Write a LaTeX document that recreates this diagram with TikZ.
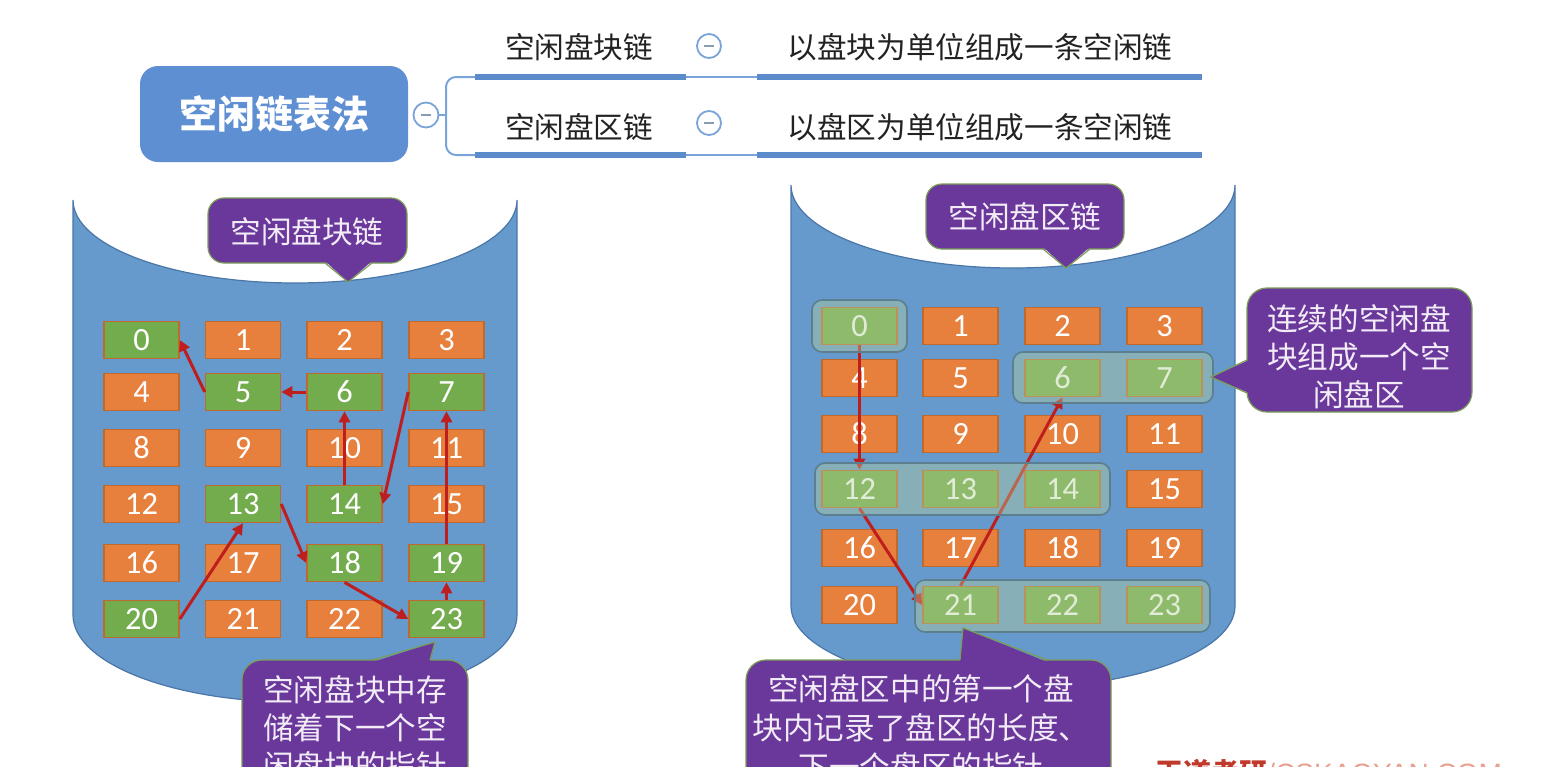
\documentclass[tikz,border=0pt]{standalone}
\usepackage{fontspec}
\setmainfont{Carlito}
\newfontfamily\cjk{Noto Sans CJK SC}
\newfontfamily\wmfont{Liberation Sans}
\usetikzlibrary{arrows.meta}
\definecolor{cylfill}{HTML}{6699CC}
\definecolor{cylline}{HTML}{4A76A8}
\definecolor{orangebox}{HTML}{E8803D}
\definecolor{greenbox}{HTML}{72AC4D}
\definecolor{boxline}{HTML}{BE6A2E}
\definecolor{calloutfill}{HTML}{6A379B}
\definecolor{calloutline}{HTML}{7A9E58}
\definecolor{callouttext}{HTML}{F2ECF7}
\definecolor{arrowred}{HTML}{BE1E1E}
\definecolor{rootblue}{HTML}{5F8FD3}
\definecolor{barblue}{HTML}{5B8BCB}
\definecolor{thinblue}{HTML}{7AA3DA}
\definecolor{minusgray}{HTML}{8A9BB5}
\definecolor{overlayc}{RGB}{182,208,154}
\definecolor{overlayline}{HTML}{5B7F8F}
\definecolor{labeltext}{HTML}{222222}
\definecolor{wmdark}{HTML}{C0392B}
\definecolor{wmlight}{HTML}{E8A090}
\begin{document}
\begin{tikzpicture}[x=0.5pt,y=-0.5pt,
  blk/.style={draw=boxline, line width=0.8pt, minimum width=37.5pt, minimum height=18.5pt,
    inner sep=0pt, text=white, font=\fontsize{16.2}{18}\selectfont},
  fblk/.style={blk, fill=greenbox},
  ublk/.style={blk, fill=orangebox},
  arr/.style={draw=arrowred, line width=1.5pt, -{Triangle[length=5.5pt,width=5.5pt]}},
  callout/.style={fill=calloutfill, draw=calloutline, line width=0.6pt, inner sep=0pt},
  ptr/.style={draw=calloutline, line width=0.6pt},
  ctext/.style={text=callouttext, font=\cjk\fontsize{15.3}{18}\selectfont, inner sep=0pt},
  grp/.style={fill=overlayc, fill opacity=0.4, draw=overlayline, draw opacity=1,
    line width=0.8pt, rounded corners=5pt},
  minus/.style={circle, draw=thinblue, line width=0.9pt, fill=white, minimum size=12pt, inner sep=0pt},
  minusbar/.style={draw=minusgray, line width=1pt},
  toplabel/.style={text=labeltext, font=\cjk\fontsize{14.8}{17}\selectfont, inner sep=0pt},
  bar/.style={draw=barblue, line width=3pt},
  thin/.style={draw=thinblue, line width=1pt}]
\clip (0,0) rectangle (1552,766);
\fill[white] (0,0) rectangle (1552,766);

% ---------- mind map ----------
\node[fill=rootblue, rounded corners=9pt, minimum width=134pt, minimum height=48pt, inner sep=0pt,
  text=white, font=\cjk\bfseries\fontsize{19}{22}\selectfont] (root) at (274,114) {空闲链表法};
\node[minus, minimum size=12.5pt] (rc) at (426,115) {};
\draw[minusbar] ([xshift=-2.5pt]rc.center) -- ([xshift=2.5pt]rc.center);
\coordinate (bmid) at (446,115);
\coordinate (btop) at (446,77);
\coordinate (bbot) at (446,155);
\coordinate (s1) at (475,77);
\coordinate (s2) at (475,155);
\draw[thin] (rc.east) -- (bmid);
\draw[thin, rounded corners=5pt] (s1) -- (btop) -- (bbot) -- (s2);

\node[toplabel] (b1) at (579,47) {空闲盘块链};
\node[minus] (m1) at (709,46) {};
\draw[minusbar] ([xshift=-2.5pt]m1.center) -- ([xshift=2.5pt]m1.center);
\node[toplabel] (d1) at (980,47) {以盘块为单位组成一条空闲链};
\coordinate (e1) at (686,77);
\coordinate (f1) at (757,77);
\coordinate (g1) at (1202,77);
\draw[bar] (s1) -- (e1);
\draw[thin] (e1) -- (f1);
\draw[bar] (f1) -- (g1);

\node[toplabel] (b2) at (579,127) {空闲盘区链};
\node[minus] (m2) at (709,123) {};
\draw[minusbar] ([xshift=-2.5pt]m2.center) -- ([xshift=2.5pt]m2.center);
\node[toplabel] (d2) at (980,127) {以盘区为单位组成一条空闲链};
\coordinate (e2) at (686,155);
\coordinate (f2) at (757,155);
\coordinate (g2) at (1202,155);
\draw[bar] (s2) -- (e2);
\draw[thin] (e2) -- (f2);
\draw[bar] (f2) -- (g2);

% ---------- cylinders ----------
\filldraw[fill=cylfill, draw=cylline, line width=0.6pt]
  (73,200) -- (73,615) arc[start angle=180, end angle=0, x radius=222, y radius=87]
  -- (517,200) arc[start angle=0, end angle=180, x radius=222, y radius=83] -- cycle;
\filldraw[fill=cylfill, draw=cylline, line width=0.6pt]
  (791,185) -- (791,606) arc[start angle=180, end angle=0, x radius=222, y radius=82]
  -- (1235,185) arc[start angle=0, end angle=180, x radius=222, y radius=83] -- cycle;

% ---------- top callouts ----------
\node[callout, rounded corners=8pt, minimum width=99.5pt, minimum height=32.5pt] (lt) at (307.5,230.5) {};
\fill[calloutfill] (325,261) -- (348,282) -- (372,261) -- cycle;
\draw[ptr] (325,263) -- (348,282) -- (372,263);
\node[ctext] (ltt) at (307,232) {空闲盘块链};

\node[callout, rounded corners=8pt, minimum width=99pt, minimum height=32.5pt] (rt) at (1025,216.5) {};
\fill[calloutfill] (1043,247) -- (1066,268) -- (1090,247) -- cycle;
\draw[ptr] (1043,249) -- (1066,268) -- (1090,249);
\node[ctext] (rtt) at (1025,217) {空闲盘区链};

% ---------- left grid ----------
\foreach \i/\s in {0/fblk,1/ublk,2/ublk,3/ublk,4/ublk,5/fblk,6/fblk,7/fblk,8/ublk,9/ublk,10/ublk,11/ublk,
  12/ublk,13/fblk,14/fblk,15/ublk,16/ublk,17/ublk,18/fblk,19/fblk,20/fblk,21/ublk,22/ublk,23/fblk}{
  \pgfmathsetmacro{\cx}{{141.5,243,344.5,446.5}[mod(\i,4)]}
  \pgfmathsetmacro{\cy}{{340,392,448,504,563,619}[int(\i/4)]}
  \node[\s] (L\i) at (\cx,\cy) {\i};
}
\draw[arr] (L5.west) -- (L0.east);
\draw[arr] (L6.west) -- (L5.east);
\draw[arr] (L14.north) -- (L6.south);
\draw[arr] (L7.west) -- (L14.east);
\draw[arr] (L19.north) -- (L7.south);
\draw[arr] (L23.north) -- (L19.south);
\draw[arr] (L18.south) -- (L23.west);
\draw[arr] (L13.east) -- (L18.west);
\draw[arr] (L20.east) -- (L13.south);

% ---------- right grid ----------
\foreach \i/\s in {0/fblk,1/ublk,2/ublk,3/ublk,4/ublk,5/ublk,6/fblk,7/fblk,8/ublk,9/ublk,10/ublk,11/ublk,
  12/fblk,13/fblk,14/fblk,15/ublk,16/ublk,17/ublk,18/ublk,19/ublk,20/ublk,21/fblk,22/fblk,23/fblk}{
  \pgfmathsetmacro{\cx}{{859.5,960.5,1062.5,1164.5}[mod(\i,4)]}
  \pgfmathsetmacro{\cy}{{326,378,434,489,548,605}[int(\i/4)]}
  \node[\s] (R\i) at (\cx,\cy) {\i};
}
\draw[arr] (R0.south) -- (R12.north);
\draw[arr] (R12.south) -- (R21.west);
\draw[arr] (R21.north) -- (R6.south);

\draw[grp] (812,300) rectangle (907,352);
\draw[grp] (1013,352) rectangle (1213,403);
\draw[grp] (815,463) rectangle (1110,515);
\draw[grp] (915,580) rectangle (1210,632);

% ---------- side / bottom callouts ----------
\node[callout, rounded corners=10pt, minimum width=112.5pt, minimum height=62pt] (rs) at (1359.5,350) {};
\fill[calloutfill] (1249,360) -- (1211,377) -- (1249,393) -- cycle;
\draw[ptr] (1247,360) -- (1211,377) -- (1247,393);
\node[ctext] (rs1) at (1359,319) {连续的空闲盘};
\node[ctext] (rs2) at (1359,357) {块组成一个空};
\node[ctext] (rs3) at (1359,395) {闲盘区};

\node[callout, rounded corners=10pt, minimum width=113pt, minimum height=75pt] (lb) at (355,735) {};
\fill[calloutfill] (373,662) -- (435,642) -- (430,662) -- cycle;
\draw[ptr] (373,660) -- (435,642) -- (430,660);
\node[ctext] (lb1) at (355,690) {空闲盘块中存};
\node[ctext] (lb2) at (355,728) {储着下一个空};
\node[ctext] (lb3) at (355,766) {闲盘块的指针};

\node[callout, rounded corners=10pt, minimum width=182.5pt, minimum height=75pt] (rb) at (928.5,735) {};
\fill[calloutfill] (960,662) -- (963,628) -- (1047,662) -- cycle;
\draw[ptr] (960,660) -- (963,628) -- (1047,660);
\node[ctext] (rb1) at (921,689) {空闲盘区中的第一个盘};
\node[ctext] (rb2) at (921,728) {块内记录了盘区的长度、};
\node[ctext] (rb3) at (921,767) {下一个盘区的指针};

% ---------- watermark ----------
\node[anchor=north west, inner sep=0pt, font=\fontsize{14}{16}\selectfont] (wm) at (1155,759)
  {\textcolor{wmdark}{\cjk\bfseries 王道考研}\textcolor{wmlight}{\wmfont /CSKAOYAN.COM}};
\end{tikzpicture}
\end{document}
